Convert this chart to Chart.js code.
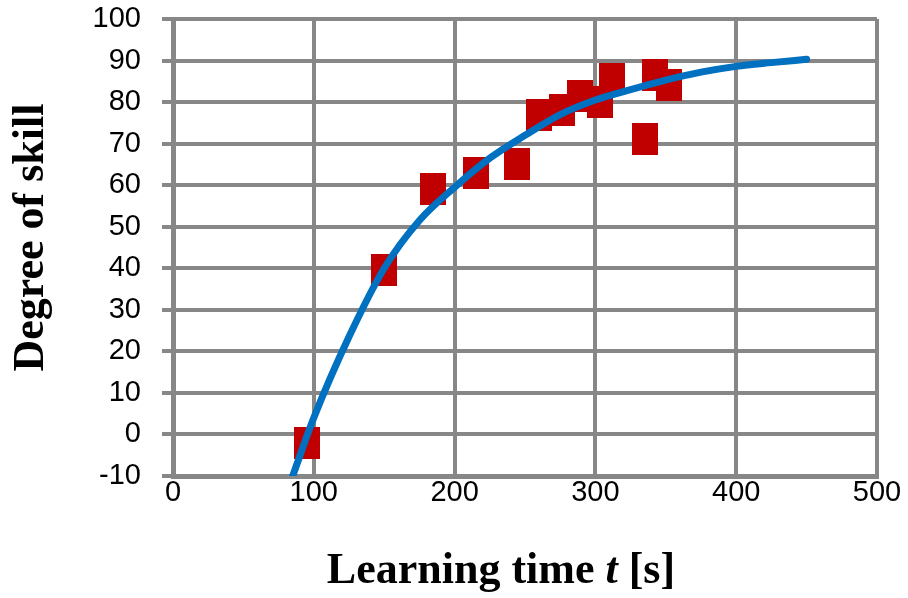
<!DOCTYPE html>
<html>
<head>
<meta charset="utf-8">
<title>Degree of skill vs learning time</title>
<script src="https://cdn.jsdelivr.net/npm/chart.js@4.4.1/dist/chart.umd.min.js"></script>
<style>
  html, body { margin: 0; padding: 0; background: #ffffff; }
  #wrap { width: 908px; height: 598px; }
</style>
</head>
<body>
<div id="wrap"><canvas id="skillChart" width="908" height="598"></canvas></div>
<script>
// Measured trials: learning time [s] and reached degree of skill
const trialTime  = [95, 150, 185, 215, 244, 260, 276, 289, 303, 312, 335, 342, 352];
const trialSkill = [-2, 39.5, 59, 63, 65, 77, 78, 81.5, 80, 85.5, 71, 86.5, 84];

// Fitted learning curve, sampled along the time axis
const curveTime  = [85, 100, 125, 150, 175, 200, 225, 250, 275, 300, 325, 350, 375, 400, 425, 450];
const curveSkill = [-10, 4, 23.5, 40, 51.5, 59.5, 66.5, 72, 77, 80.5, 83, 85.3, 87.2, 88.6, 89.5, 90.3];

// Axis ranges and tick steps
const timeAxis  = { min: 0, max: 500, step: 100 };
const skillAxis = { min: -10, max: 100, step: 10 };

const gridGray = '#878787';

// Rectangular marker used for the measured trials
function makeMarker(w, h, color) {
  const c = document.createElement('canvas');
  c.width = w; c.height = h;
  const g = c.getContext('2d');
  g.fillStyle = color;
  g.fillRect(0, 0, w, h);
  return c;
}
const marker = makeMarker(26, 32, '#C00000');

// Axis titles drawn in bold serif; the time symbol is italic
const axisTitles = {
  id: 'axisTitles',
  afterDraw(chart) {
    const { ctx, chartArea } = chart;
    const font = '"Liberation Serif", "Times New Roman", serif';
    ctx.save();
    ctx.fillStyle = '#000000';

    // vertical title
    ctx.save();
    ctx.translate(chartArea.left - 130, (chartArea.top + chartArea.bottom) / 2 - 10);
    ctx.rotate(-Math.PI / 2);
    ctx.font = 'bold 44px ' + font;
    ctx.textAlign = 'center';
    ctx.textBaseline = 'alphabetic';
    ctx.fillText('Degree of skill', 0, 0);
    ctx.restore();

    // horizontal title, composed of runs
    const runs = [
      { text: 'Learning time ', font: 'bold 44px ' + font },
      { text: 't', font: 'italic bold 44px ' + font },
      { text: ' [s]', font: 'bold 44px ' + font }
    ];
    let total = 0;
    runs.forEach(r => { ctx.font = r.font; r.w = ctx.measureText(r.text).width; total += r.w; });
    let x = (chartArea.left + chartArea.right) / 2 - 24 - total / 2;
    const y = chartArea.bottom + 107;
    ctx.textAlign = 'left';
    ctx.textBaseline = 'alphabetic';
    runs.forEach(r => { ctx.font = r.font; ctx.fillText(r.text, x, y); x += r.w; });
    ctx.restore();
  }
};

new Chart(document.getElementById('skillChart'), {
  type: 'scatter',
  data: {
    datasets: [
      {
        label: 'Learning curve',
        data: curveTime.map((t, i) => ({ x: t, y: curveSkill[i] })),
        showLine: true,
        borderColor: '#0070C0',
        borderWidth: 7,
        borderCapStyle: 'round',
        cubicInterpolationMode: 'monotone',
        pointRadius: 0,
        pointHoverRadius: 0,
        fill: false
      },
      {
        label: 'Trials',
        data: trialTime.map((t, i) => ({ x: t, y: trialSkill[i] })),
        pointStyle: marker,
        pointRadius: 13,
        showLine: false
      }
    ]
  },
  options: {
    responsive: false,
    animation: false,
    devicePixelRatio: 1,
    layout: { padding: { left: 0, right: 31, top: 19, bottom: 0 } },
    plugins: {
      legend: { display: false },
      tooltip: { enabled: false },
      title: { display: false }
    },
    scales: {
      x: {
        type: 'linear',
        min: timeAxis.min,
        max: timeAxis.max,
        afterFit(scale) {
          scale.height = 122;
          scale.paddingLeft = 0;
          scale.paddingRight = 0;
        },
        ticks: {
          stepSize: timeAxis.step,
          padding: 0,
          color: '#000000',
          font: { family: '"Liberation Sans", Arial, sans-serif', size: 29 }
        },
        grid: { color: gridGray, lineWidth: 4, drawTicks: false },
        border: { display: true, color: gridGray, width: 5 }
      },
      y: {
        type: 'linear',
        min: skillAxis.min,
        max: skillAxis.max,
        afterFit(scale) {
          scale.width = 173;
          scale.paddingTop = 0;
          scale.paddingBottom = 0;
        },
        ticks: {
          stepSize: skillAxis.step,
          padding: 21,
          color: '#000000',
          font: { family: '"Liberation Sans", Arial, sans-serif', size: 29 }
        },
        grid: { color: gridGray, lineWidth: 4, drawTicks: true, tickLength: 11 },
        border: { display: true, color: gridGray, width: 5 }
      }
    }
  },
  plugins: [axisTitles]
});
</script>
</body>
</html>
